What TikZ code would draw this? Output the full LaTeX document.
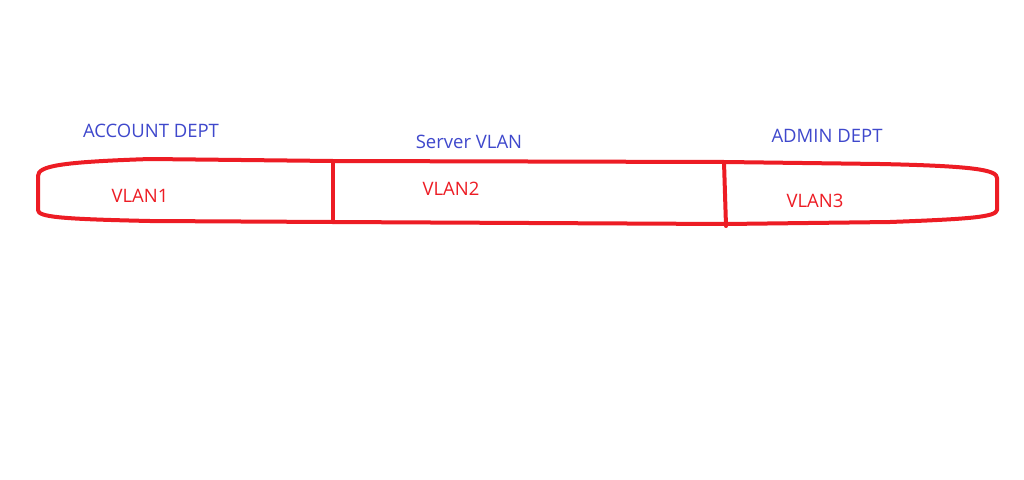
\documentclass[tikz,border=0pt]{standalone}
\usepackage{fontspec}
\setmainfont{Open Sans}
\definecolor{penred}{RGB}{237,28,36}
\definecolor{penblue}{RGB}{63,72,204}
\tikzset{
  dept/.style={text=penblue, font=\fontsize{18.5}{21}\selectfont, inner sep=0pt},
  vlan/.style={text=penred, font=\fontsize{18.5}{21}\selectfont, inner sep=0pt},
  pen/.style={draw=penred, line width=4pt, line join=round, line cap=round}
}
\begin{document}
\begin{tikzpicture}[x=1pt,y=-1pt]
  \useasboundingbox[fill=white] (0,0) rectangle (1024,479);
  % department names above the band
  \node[dept] (acc) at (151,131) {ACCOUNT DEPT};
  \node[dept] (srv) at (469,142) {Server VLAN};
  \node[dept] (adm) at (827,136) {ADMIN DEPT};
  % outer band, drawn freehand
  \draw[pen] (150,159) -- (333,161) -- (725,162) -- (880,164)
    .. controls (975,166) and (997,170) .. (997,178) -- (997,210)
    .. controls (996,217) and (970,219) .. (890,222) -- (726,224) -- (333,222)
    -- (150,221) .. controls (60,219) and (38,217) .. (38,210) -- (38,176)
    .. controls (38,166) and (60,162) .. cycle;
  % dividers between the vlans
  \coordinate (d1top) at (333,162);
  \coordinate (d1bot) at (333,222);
  \coordinate (d2top) at (724,162);
  \coordinate (d2bot) at (726,226);
  \draw[pen] (d1top) -- (d1bot);
  \draw[pen] (d2top) -- (d2bot);
  % vlan names inside
  \node[vlan] (v1) at (140,196) {VLAN1};
  \node[vlan] (v2) at (451,189) {VLAN2};
  \node[vlan] (v3) at (815,201) {VLAN3};
\end{tikzpicture}
\end{document}
